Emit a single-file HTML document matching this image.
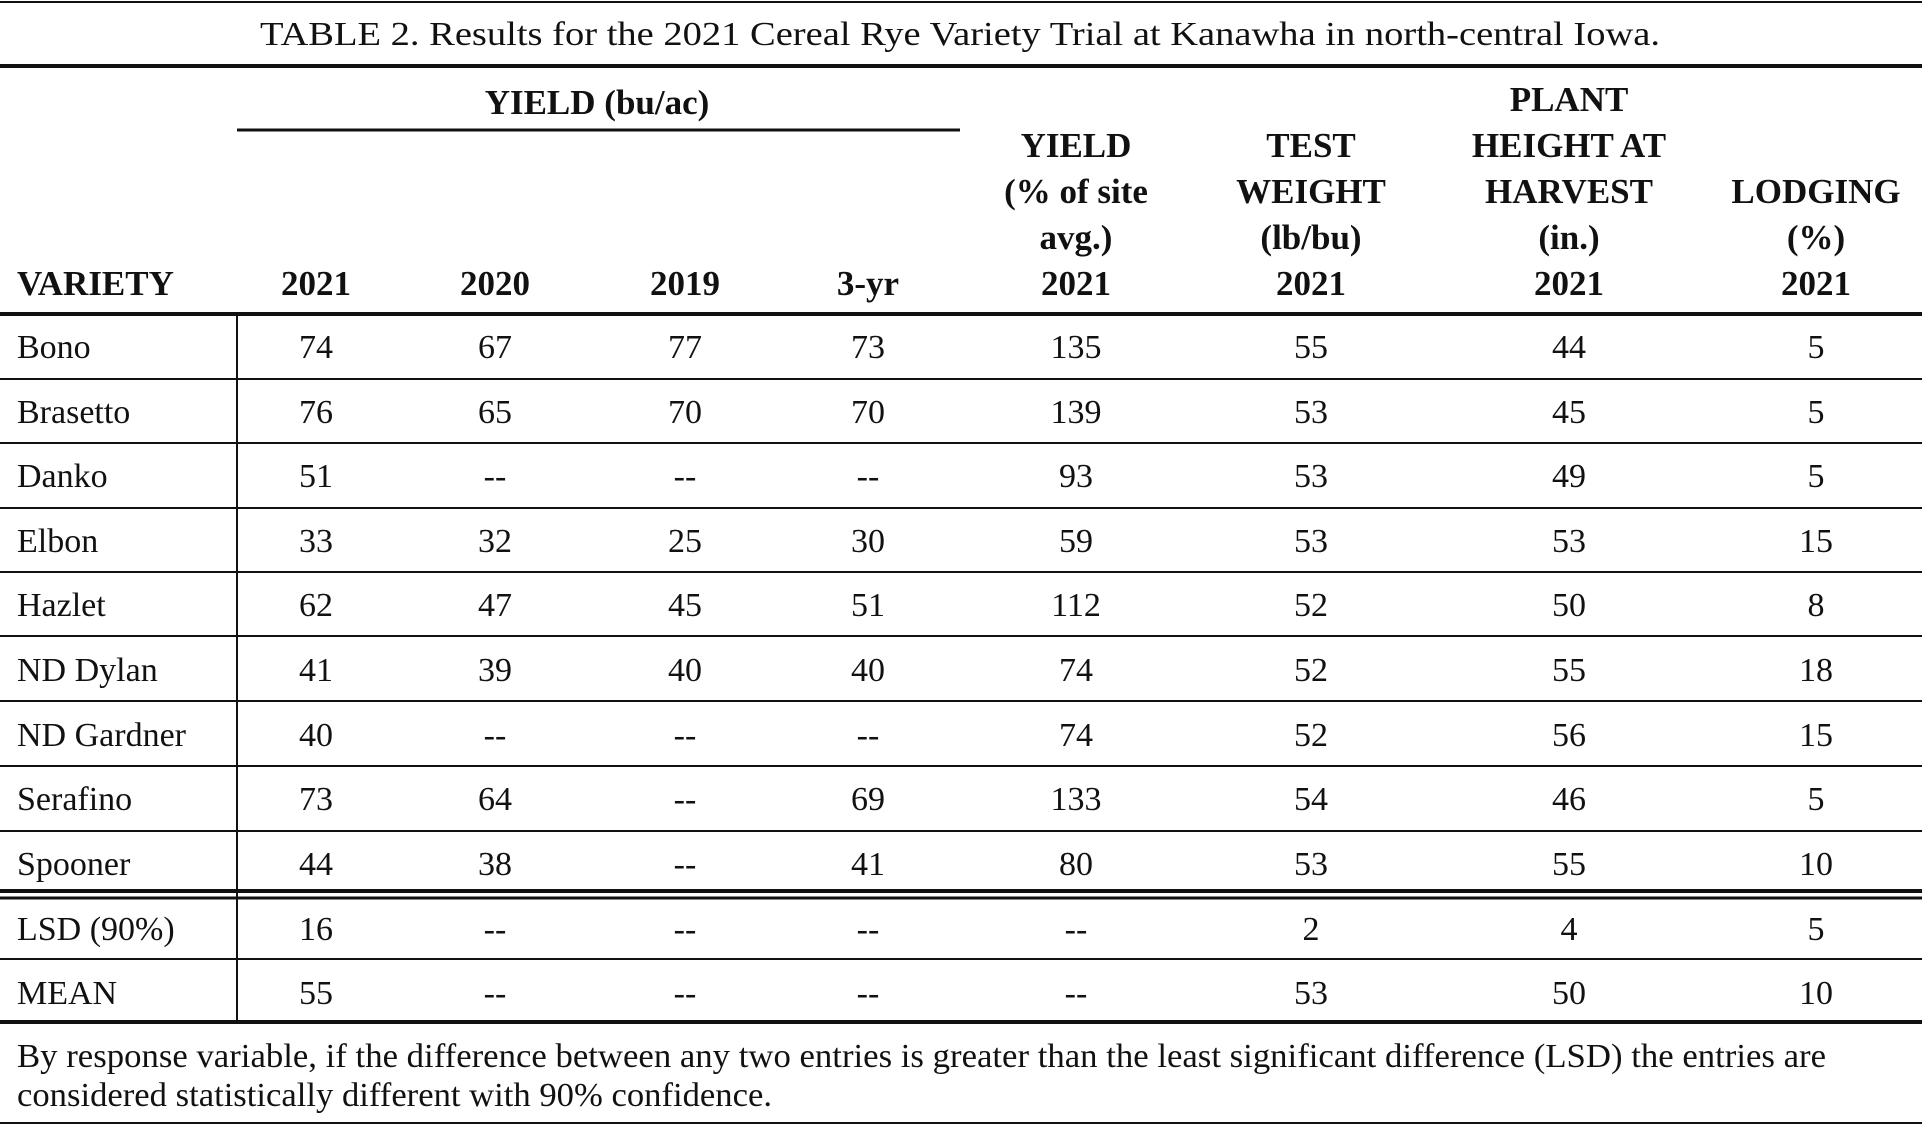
<!DOCTYPE html>
<html><head><meta charset="utf-8"><style>
html,body{margin:0;padding:0;background:#fff;}
svg{display:block;}
text{font-family:"Liberation Serif",serif;font-size:34px;fill:#111;}
.b text,.b{font-weight:bold;font-size:35px;}
.m{text-anchor:middle;}
</style></head><body>
<svg width="1922" height="1125" viewBox="0 0 1922 1125" xmlns="http://www.w3.org/2000/svg">
<g stroke="#111">
<line x1="0" y1="2" x2="1922" y2="2" stroke-width="2"/>
<line x1="0" y1="66" x2="1922" y2="66" stroke-width="4"/>
<line x1="237" y1="130" x2="960" y2="130" stroke-width="3"/>
<line x1="0" y1="314" x2="1922" y2="314" stroke-width="4"/>
<line x1="0" y1="379" x2="1922" y2="379" stroke-width="2"/>
<line x1="0" y1="443" x2="1922" y2="443" stroke-width="2"/>
<line x1="0" y1="508" x2="1922" y2="508" stroke-width="2"/>
<line x1="0" y1="572" x2="1922" y2="572" stroke-width="2"/>
<line x1="0" y1="636" x2="1922" y2="636" stroke-width="2"/>
<line x1="0" y1="701" x2="1922" y2="701" stroke-width="2"/>
<line x1="0" y1="766" x2="1922" y2="766" stroke-width="2"/>
<line x1="0" y1="831" x2="1922" y2="831" stroke-width="2"/>
<line x1="0" y1="891" x2="1922" y2="891" stroke-width="4"/>
<line x1="0" y1="898" x2="1922" y2="898" stroke-width="3"/>
<line x1="0" y1="959" x2="1922" y2="959" stroke-width="2"/>
<line x1="0" y1="1022" x2="1922" y2="1022" stroke-width="4"/>
<line x1="0" y1="1123" x2="1922" y2="1123" stroke-width="2"/>
<line x1="237" y1="314" x2="237" y2="1022" stroke-width="2"/>
</g>
<text x="260" y="45" textLength="1400" lengthAdjust="spacingAndGlyphs">TABLE 2. Results for the 2021 Cereal Rye Variety Trial at Kanawha in north-central Iowa.</text>
<g class="b m">
<text x="597" y="114">YIELD (bu/ac)</text>
<text x="17" y="295" style="text-anchor:start">VARIETY</text>
<text x="316" y="295">2021</text>
<text x="495" y="295">2020</text>
<text x="685" y="295">2019</text>
<text x="868" y="295">3-yr</text>
<text x="1076" y="157">YIELD</text>
<text x="1076" y="203">(% of site</text>
<text x="1076" y="249">avg.)</text>
<text x="1076" y="295">2021</text>
<text x="1311" y="157">TEST</text>
<text x="1311" y="203">WEIGHT</text>
<text x="1311" y="249">(lb/bu)</text>
<text x="1311" y="295">2021</text>
<text x="1569" y="111">PLANT</text>
<text x="1569" y="157">HEIGHT AT</text>
<text x="1569" y="203">HARVEST</text>
<text x="1569" y="249">(in.)</text>
<text x="1569" y="295">2021</text>
<text x="1816" y="203">LODGING</text>
<text x="1816" y="249">(%)</text>
<text x="1816" y="295">2021</text>
</g>
<text x="17" y="1067" textLength="1809" lengthAdjust="spacingAndGlyphs">By response variable, if the difference between any two entries is greater than the least significant difference (LSD) the entries are</text>
<text x="17" y="1106" textLength="755" lengthAdjust="spacingAndGlyphs">considered statistically different with 90% confidence.</text>
<g>
<text x="17" y="358">Bono</text><text x="17" y="423">Brasetto</text><text x="17" y="487">Danko</text><text x="17" y="552">Elbon</text><text x="17" y="616">Hazlet</text><text x="17" y="681">ND Dylan</text><text x="17" y="746">ND Gardner</text><text x="17" y="810">Serafino</text><text x="17" y="875">Spooner</text><text x="17" y="940">LSD (90%)</text><text x="17" y="1004">MEAN</text>
</g>
<g class="m">
<text x="316" y="358">74</text><text x="495" y="358">67</text><text x="685" y="358">77</text><text x="868" y="358">73</text><text x="1076" y="358">135</text><text x="1311" y="358">55</text><text x="1569" y="358">44</text><text x="1816" y="358">5</text>
<text x="316" y="423">76</text><text x="495" y="423">65</text><text x="685" y="423">70</text><text x="868" y="423">70</text><text x="1076" y="423">139</text><text x="1311" y="423">53</text><text x="1569" y="423">45</text><text x="1816" y="423">5</text>
<text x="316" y="487">51</text><text x="495" y="487">--</text><text x="685" y="487">--</text><text x="868" y="487">--</text><text x="1076" y="487">93</text><text x="1311" y="487">53</text><text x="1569" y="487">49</text><text x="1816" y="487">5</text>
<text x="316" y="552">33</text><text x="495" y="552">32</text><text x="685" y="552">25</text><text x="868" y="552">30</text><text x="1076" y="552">59</text><text x="1311" y="552">53</text><text x="1569" y="552">53</text><text x="1816" y="552">15</text>
<text x="316" y="616">62</text><text x="495" y="616">47</text><text x="685" y="616">45</text><text x="868" y="616">51</text><text x="1076" y="616">112</text><text x="1311" y="616">52</text><text x="1569" y="616">50</text><text x="1816" y="616">8</text>
<text x="316" y="681">41</text><text x="495" y="681">39</text><text x="685" y="681">40</text><text x="868" y="681">40</text><text x="1076" y="681">74</text><text x="1311" y="681">52</text><text x="1569" y="681">55</text><text x="1816" y="681">18</text>
<text x="316" y="746">40</text><text x="495" y="746">--</text><text x="685" y="746">--</text><text x="868" y="746">--</text><text x="1076" y="746">74</text><text x="1311" y="746">52</text><text x="1569" y="746">56</text><text x="1816" y="746">15</text>
<text x="316" y="810">73</text><text x="495" y="810">64</text><text x="685" y="810">--</text><text x="868" y="810">69</text><text x="1076" y="810">133</text><text x="1311" y="810">54</text><text x="1569" y="810">46</text><text x="1816" y="810">5</text>
<text x="316" y="875">44</text><text x="495" y="875">38</text><text x="685" y="875">--</text><text x="868" y="875">41</text><text x="1076" y="875">80</text><text x="1311" y="875">53</text><text x="1569" y="875">55</text><text x="1816" y="875">10</text>
<text x="316" y="940">16</text><text x="495" y="940">--</text><text x="685" y="940">--</text><text x="868" y="940">--</text><text x="1076" y="940">--</text><text x="1311" y="940">2</text><text x="1569" y="940">4</text><text x="1816" y="940">5</text>
<text x="316" y="1004">55</text><text x="495" y="1004">--</text><text x="685" y="1004">--</text><text x="868" y="1004">--</text><text x="1076" y="1004">--</text><text x="1311" y="1004">53</text><text x="1569" y="1004">50</text><text x="1816" y="1004">10</text>
</g>
</svg>
</body></html>
